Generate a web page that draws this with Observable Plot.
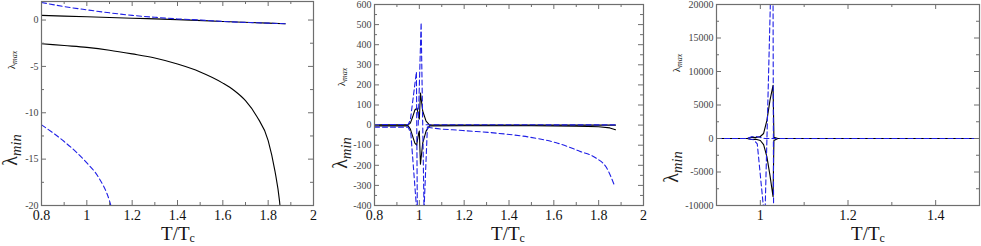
<!DOCTYPE html>
<html><head><meta charset="utf-8">
<script src="https://cdn.jsdelivr.net/npm/d3@7"></script>
<script src="https://cdn.jsdelivr.net/npm/@observablehq/plot@0.6"></script>
<style>
body{margin:0;background:#fff;}
#wrap{display:flex;width:981px;height:246px;overflow:hidden;}
#wrap svg text{font-family:'Liberation Serif','DejaVu Serif',serif;}
</style></head><body><div id="wrap"></div>
<script>
// ---------- Panel 1 data ----------
const p1BlackMax = [[0.8,0.5],[1.0,0.35],[1.2,0.2],[1.4,0.05],[1.6,-0.15],[1.8,-0.33],[1.875,-0.4]];
const p1BlueMax  = [[0.8,1.9],[0.9,1.45],[1.0,1.1],[1.1,0.78],[1.2,0.5],[1.3,0.3],[1.4,0.12],[1.5,0.0],[1.6,-0.15],[1.8,-0.33],[1.875,-0.4]];
const p1BlackMin = [[0.8,-2.55],[0.9,-2.75],[1.0,-2.95],[1.1,-3.25],[1.2,-3.65],[1.3,-4.1],[1.4,-4.75],[1.5,-5.6],[1.6,-6.8],[1.65,-7.6],[1.7,-8.7],[1.75,-10.4],[1.8,-13.0],[1.83,-16.3],[1.85,-19.5],[1.856,-21]];
const p1BlueMin  = [[0.8,-11.3],[0.9,-13.1],[1.0,-15.4],[1.05,-16.9],[1.1,-19.5],[1.117,-21]];
// ---------- Panel 2 data ----------
const p2BlackMax = [[0.8,1],[0.95,1],[0.96,10],[0.97,40],[0.98,75],[0.99,85],[0.997,40],[1.0,30],[1.005,160],[1.015,70],[1.03,20],[1.045,1],[1.2,0],[1.875,0]];
const p2BlackMin = [[0.8,-4],[0.95,-4],[0.96,-20],[0.97,-55],[0.98,-90],[0.988,-100],[0.997,-40],[1.0,-30],[1.005,-195],[1.015,-90],[1.03,-30],[1.045,-4],[1.2,-3],[1.5,-3],[1.7,-5],[1.8,-8],[1.85,-14],[1.875,-23]];
const p2BlueA = [[0.8,3],[0.95,3],[0.96,25],[0.987,265],[0.991,-420]];
const p2BlueB = [[0.8,-10],[0.95,-10],[0.962,-40],[0.988,-420]];
const p2BlueC = [[0.995,0],[1.008,510],[1.021,-420]];
const p2BlueD = [[1.036,-10],[1.045,-12],[1.194,-27],[1.343,-40],[1.492,-60],[1.611,-88],[1.715,-130],[1.79,-165],[1.834,-210],[1.872,-305]];
const p2BlueDjoin = [[1.021,-420],[1.036,-10]];
const p2BlueE = [[1.03,2],[1.875,1]];
// ---------- Panel 3 data ----------
const p3BlackMax = [[0.9,0],[0.97,0],[0.98,200],[0.99,150],[1.0,300],[1.0075,750],[1.015,2700],[1.022,5700],[1.029,7950],[1.031,200],[1.04,0],[1.5,0]];
const p3BlackMin = [[0.9,0],[0.97,0],[0.98,-150],[0.99,-100],[1.0,-300],[1.0075,-900],[1.015,-2740],[1.022,-5500],[1.029,-8700],[1.031,-300],[1.04,0],[1.5,0]];
const p3BlueA = [[0.9,0],[0.97,0],[0.985,-200],[0.993,-800],[1.0075,-10500]];
const p3BlueB = [[1.011,-10500],[1.0232,21000]];
const p3BlueC = [[1.029,21000],[1.0302,-10500]];
const p3BlueD = [[0.9,0],[0.97,0],[0.98,250],[0.99,300],[1.0,150],[1.01,0],[1.035,0],[1.5,0]];
// ---------- ticks ----------
const p1XTicks = [0.8,1,1.2,1.4,1.6,1.8,2];
const p1XMinor = [0.9,1.1,1.3,1.5,1.7,1.9];
const p1YTicks = [0,-5,-10,-15,-20];
const p1YMinor = [-2.5,-7.5,-12.5,-17.5];
const p2XTicks = p1XTicks, p2XMinor = p1XMinor;
const p2YTicks = [600,500,400,300,200,100,0,-100,-200,-300,-400];
const p2YMinor = [550,450,350,250,150,50,-50,-150,-250,-350];
const p3XTicks = [1,1.2,1.4];
const p3XMinor = [0.9,1.1,1.3,1.5];
const p3YTicks = [20000,15000,10000,5000,0,-5000,-10000];
const p3YMinor = [17500,12500,7500,2500,-2500,-7500];

const FRAME = "#6e6e6e";
const BLUE = "#1f1fe6";
const SERIF = "Liberation Serif";

function rows(obj){
  const out=[];
  for (const [k,arr] of Object.entries(obj)) for (const [x,y] of arr) out.push({s:k,x,y});
  return out;
}

function panel(cfg){
  const H=246, plotH = H - cfg.mt - cfg.mb, plotW = cfg.w - cfg.ml - cfg.mr;
  const tick = (vals,len,axis)=> axis==="x" ? [
      Plot.tickX(vals,{x:d=>d,insetTop:plotH-len,stroke:FRAME}),
      Plot.tickX(vals,{x:d=>d,insetBottom:plotH-len,stroke:FRAME})
    ] : [
      Plot.tickY(vals,{y:d=>d,insetRight:plotW-len,stroke:FRAME}),
      Plot.tickY(vals,{y:d=>d,insetLeft:plotW-len,stroke:FRAME})
    ];
  const svg = Plot.plot({
    width:cfg.w, height:H,
    marginLeft:cfg.ml, marginRight:cfg.mr, marginTop:cfg.mt, marginBottom:cfg.mb,
    x:{domain:cfg.xd, axis:null}, y:{domain:cfg.yd, axis:null},
    style:{fontFamily:SERIF, background:"white", overflow:"visible"},
    marks:[
      Plot.line(rows(cfg.blackSmooth||{}),{x:"x",y:"y",z:"s",stroke:"black",strokeWidth:1.1,clip:true,curve:"monotone-x"}),
      Plot.line(rows(cfg.blackLin||{}),{x:"x",y:"y",z:"s",stroke:"black",strokeWidth:1.1,clip:true}),
      Plot.line(rows(cfg.blueSmooth||{}),{x:"x",y:"y",z:"s",stroke:BLUE,strokeWidth:1.1,strokeDasharray:"5,3",clip:true,curve:"monotone-x"}),
      Plot.line(rows(cfg.blueLin||{}),{x:"x",y:"y",z:"s",stroke:BLUE,strokeWidth:1.1,strokeDasharray:"5,3",clip:true}),
      ...tick(cfg.xt,5,"x"), ...tick(cfg.xm,3,"x"),
      ...tick(cfg.yt,5,"y"), ...tick(cfg.ym,3,"y"),
      Plot.frame({stroke:FRAME,strokeWidth:1.2}),
      Plot.text(cfg.xt,{x:d=>d,frameAnchor:"bottom",lineAnchor:"top",dy:5,text:d=>String(d),fontSize:14,fontFamily:SERIF,fill:"#111"}),
      Plot.text(cfg.yt,{y:d=>d,frameAnchor:"left",textAnchor:"end",dx:-3,text:d=>String(d),fontSize:cfg.yfs,fontFamily:SERIF,fill:"#444"})
    ]
  });
  const s = d3.select(svg);
  const t = s.append("text").attr("x",cfg.xlab).attr("y",240).attr("text-anchor","middle")
    .attr("font-family",SERIF).attr("font-size",19).attr("fill","#111");
  t.append("tspan").text("T/T");
  t.append("tspan").text("c").attr("font-size",12).attr("dy","0.2em");
  function lam(x,y,sub,fs){
    const g = s.append("text").attr("transform",`translate(${x},${y}) rotate(-90)`)
      .attr("text-anchor","middle").attr("font-family",SERIF).attr("fill","#222").attr("font-size",fs);
    g.append("tspan").text("λ");
    g.append("tspan").text(sub).attr("font-style","italic").attr("font-size",fs*0.72).attr("dy","0.3em");
  }
  lam(cfg.lmax[0],cfg.lmax[1],"max",11);
  lam(cfg.lmin[0],cfg.lmin[1],"min",20);
  document.getElementById("wrap").appendChild(svg);
}

panel({w:330,ml:41,mr:17,mt:1,mb:41,xd:[0.8,2],yd:[-20,2],
  xt:p1XTicks,xm:p1XMinor,yt:p1YTicks,ym:p1YMinor,yfs:10,
  blackSmooth:{a:p1BlackMax,b:p1BlackMin},blueSmooth:{a:p1BlueMax,b:p1BlueMin},
  xlab:178,lmax:[15,60],lmin:[17,150]});
panel({w:330,ml:44,mr:17,mt:4,mb:41,xd:[0.8,2],yd:[-400,600],
  xt:p2XTicks,xm:p2XMinor,yt:p2YTicks,ym:p2YMinor,yfs:10,
  blackLin:{a:p2BlackMax,b:p2BlackMin},
  blueLin:{a:p2BlueA,b:p2BlueB,c:p2BlueC,j:p2BlueDjoin,e:p2BlueE},blueSmooth:{d:p2BlueD},
  xlab:178,lmax:[15,77],lmin:[17,153]});
panel({w:321,ml:56,mr:2,mt:4,mb:41,xd:[0.9,1.5],yd:[-10000,20000],
  xt:p3XTicks,xm:p3XMinor,yt:p3YTicks,ym:p3YMinor,yfs:10,
  blackLin:{a:p3BlackMax,b:p3BlackMin},blueLin:{a:p3BlueA,b:p3BlueB,c:p3BlueC,d:p3BlueD},
  xlab:208,lmax:[20,63],lmin:[18,167]});
</script></body></html>
